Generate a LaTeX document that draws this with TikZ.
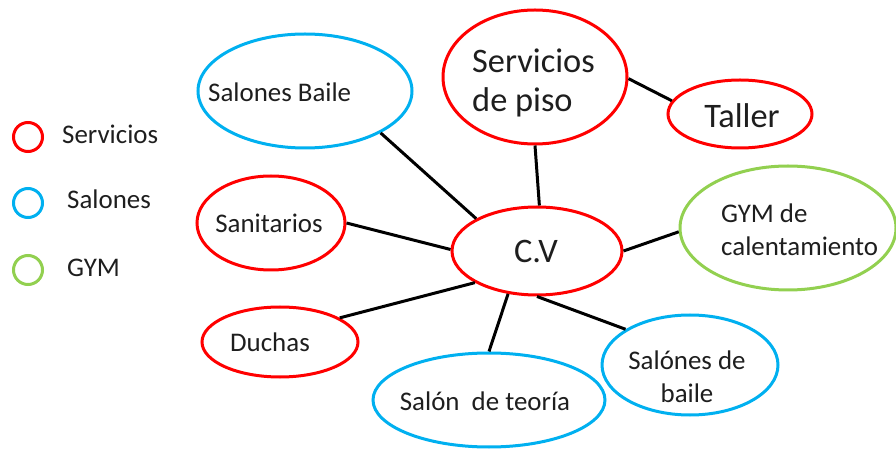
\documentclass[tikz,border=0pt]{standalone}
\usepackage{fontspec}
\setmainfont{Carlito}
\usetikzlibrary{shapes.geometric}
\definecolor{cred}{RGB}{255,0,0}
\definecolor{cblue}{RGB}{0,176,240}
\definecolor{cgreen}{RGB}{146,208,80}
\definecolor{ctext}{RGB}{30,30,30}
\tikzset{
  oval/.style={ellipse, draw, line width=3bp, inner sep=0pt, fill=white},
  redoval/.style={oval, draw=cred},
  blueoval/.style={oval, draw=cblue},
  greenoval/.style={oval, draw=cgreen},
  txt/.style={text=ctext, inner sep=0pt, font=\fontsize{27}{33}\selectfont, align=left},
  bigtxt/.style={text=ctext, inner sep=0pt, font=\fontsize{34.5}{40}\selectfont, align=left},
  link/.style={line width=3bp, black},
  legcirc/.style={circle, draw, line width=3bp, minimum size=29bp, inner sep=0pt}
}
\begin{document}
\begin{tikzpicture}[x=1bp, y=-1bp]
\useasboundingbox (0,0) rectangle (896,450);
% ellipses
\node[redoval, minimum width=170bp, minimum height=88bp] (cv) at (537,251) {};
\node[blueoval, minimum width=214bp, minimum height=114bp] (sb) at (305,91) {};
\node[redoval, minimum width=184bp, minimum height=134bp] (sp) at (535,77) {};
\node[redoval, minimum width=144bp, minimum height=68bp] (ta) at (740,114) {};
\node[greenoval, minimum width=216bp, minimum height=124bp] (gym) at (788,228) {};
\node[redoval, minimum width=148bp, minimum height=94bp] (sa) at (271,223) {};
\node[redoval, minimum width=156bp, minimum height=70bp] (du) at (280,342) {};
\node[blueoval, minimum width=232bp, minimum height=94bp] (st) at (489,400) {};
\node[blueoval, minimum width=176bp, minimum height=100bp] (sdb) at (690,365) {};
% connectors
\draw[link] (sb.-29.5) -- (cv.152.7);
\draw[link] (sp.270) -- (cv.87.4);
\draw[link] (sp.-1) -- (ta.169);
\draw[link] (sa.0.8) -- (cv.179);
\draw[link] (du.22.8) -- (cv.207.3);
\draw[link] (st.90) -- (cv.236.6);
\draw[link] (sdb.151) -- (cv.270);
\draw[link] (gym.182) -- (cv.0.5);
% texts
\node[bigtxt] (cvt) at (536,251) {C.V};
\node[txt, anchor=west] (sbt) at (208,92) {Salones Baile};
\node[bigtxt, anchor=west] (spt) at (472,83) {Servicios\\de piso};
\node[bigtxt] (tat) at (742,116) {Taller};
\node[txt, anchor=west] (gymt) at (721,230) {GYM de\\calentamiento};
\node[txt] (sat) at (269,223) {Sanitarios};
\node[txt] (dut) at (270,342) {Duchas};
\node[txt] (stt) at (485,401) {Salón\ \ de teoría};
\node[txt, align=center] (sdbt) at (687,377) {Salónes de\\baile};
% legend
\node[legcirc, draw=cred] (l1) at (28,137) {};
\node[legcirc, draw=cblue] (l2) at (28,203) {};
\node[legcirc, draw=cgreen] (l3) at (28,270) {};
\node[txt, anchor=west] (l1t) at (62,134) {Servicios};
\node[txt, anchor=west] (l2t) at (67,199) {Salones};
\node[txt, anchor=west] (l3t) at (67,268) {GYM};
\end{tikzpicture}
\end{document}
